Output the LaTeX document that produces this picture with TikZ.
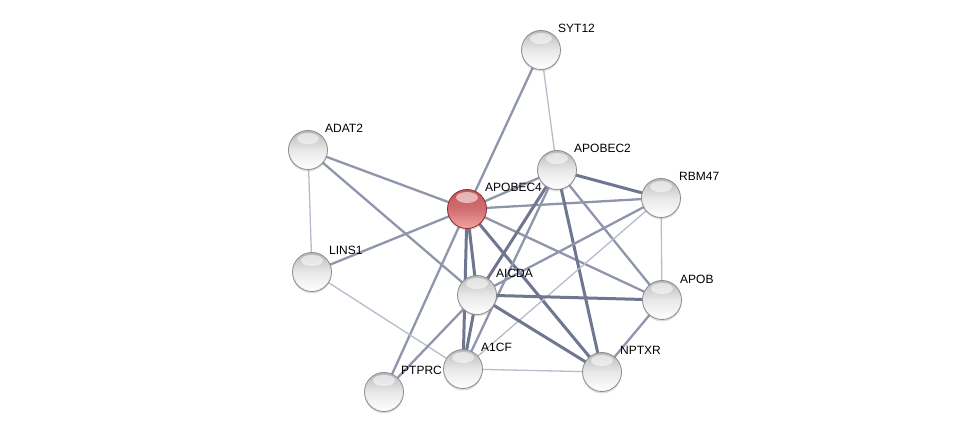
\documentclass[tikz,border=0pt]{standalone}
\usepackage{fontspec}
\setmainfont{Liberation Sans}
\usetikzlibrary{backgrounds,shadows}
\definecolor{edgeA}{HTML}{B7BCCC}
\definecolor{edgeB}{HTML}{8F96AC}
\definecolor{edgeC}{HTML}{6F7790}
\definecolor{ballrim}{HTML}{8A8A8A}
\definecolor{redtop}{HTML}{C2575B}
\definecolor{redbot}{HTML}{F2A3A5}
\definecolor{redrim}{HTML}{8E2C2E}
\tikzset{
  ball/.style={circle, minimum size=39pt, inner sep=0pt, draw=ballrim, line width=0.8pt,
    top color=gray!55, bottom color=white, middle color=gray!18,
    drop shadow={shadow xshift=0pt, shadow yshift=-2pt, opacity=0.25},
    path picture={\fill[white, opacity=0.55] ([yshift=-8pt]path picture bounding box.north) ellipse (11pt and 5.5pt);}},
  redball/.style={ball, draw=redrim, top color=redtop, bottom color=redbot, middle color=redtop!70!redbot},
  lbl/.style={anchor=west, inner sep=0pt, font=\fontsize{12}{14}\selectfont},
  thin/.style={draw=edgeA, line width=1.3pt},
  med/.style={draw=edgeB, line width=2.3pt},
  thick/.style={draw=edgeC, line width=3pt}
}
\begin{document}
\begin{tikzpicture}[x=1pt, y=-1pt]
\useasboundingbox (0,0) rectangle (975,438);
\node[ball] (syt) at (541,50) {};
\node[ball] (adat) at (308,150) {};
\node[ball] (apobec2) at (557,170) {};
\node[redball] (apobec4) at (467,209) {};
\node[ball] (rbm) at (661,198) {};
\node[ball] (lins) at (312,272) {};
\node[ball] (aicda) at (477,295) {};
\node[ball] (apob) at (662,300) {};
\node[ball] (a1cf) at (463,369) {};
\node[ball] (nptxr) at (602,372) {};
\node[ball] (ptprc) at (384,392) {};

\node[lbl] (lsyt) at (558,28) {SYT12};
\node[lbl] (ladat) at (325,128) {ADAT2};
\node[lbl] (lapobec2) at (574,148) {APOBEC2};
\node[lbl] (lapobec4) at (485,187) {APOBEC4};
\node[lbl] (lrbm) at (679,176) {RBM47};
\node[lbl] (llins) at (329,250) {LINS1};
\node[lbl] (laicda) at (496,273) {AICDA};
\node[lbl] (lapob) at (680,279) {APOB};
\node[lbl] (la1cf) at (481,347) {A1CF};
\node[lbl] (lnptxr) at (620,350) {NPTXR};
\node[lbl] (lptprc) at (401,370) {PTPRC};

\begin{pgfonlayer}{background}
\draw[med] (syt.center) -- (apobec4.center);
\draw[thin] (syt.center) -- (apobec2.center);
\draw[med] (adat.center) -- (apobec4.center);
\draw[thin] (adat.center) -- (lins.center);
\draw[med] (adat.center) -- (aicda.center);
\draw[med] (apobec4.center) -- (apobec2.center);
\draw[med] (apobec4.center) -- (rbm.center);
\draw[med] (apobec4.center) -- (lins.center);
\draw[thick] (apobec4.center) -- (aicda.center);
\draw[thick] (apobec4.center) -- (a1cf.center);
\draw[thick] (apobec4.center) -- (nptxr.center);
\draw[med] (apobec4.center) -- (apob.center);
\draw[med] (apobec4.center) -- (ptprc.center);
\draw[thick] (apobec2.center) -- (rbm.center);
\draw[thick] (apobec2.center) -- (aicda.center);
\draw[med] (apobec2.center) -- (a1cf.center);
\draw[thick] (apobec2.center) -- (nptxr.center);
\draw[med] (apobec2.center) -- (apob.center);
\draw[med] (rbm.center) -- (aicda.center);
\draw[thin] (rbm.center) -- (a1cf.center);
\draw[thin] (rbm.center) -- (apob.center);
\draw[thin] (lins.center) -- (a1cf.center);
\draw[thick] (aicda.center) -- (apob.center);
\draw[thick] (aicda.center) -- (nptxr.center);
\draw[thick] (aicda.center) -- (a1cf.center);
\draw[med] (aicda.center) -- (ptprc.center);
\draw[med] (apob.center) -- (nptxr.center);
\draw[thin] (a1cf.center) -- (nptxr.center);
\end{pgfonlayer}
\end{tikzpicture}
\end{document}
